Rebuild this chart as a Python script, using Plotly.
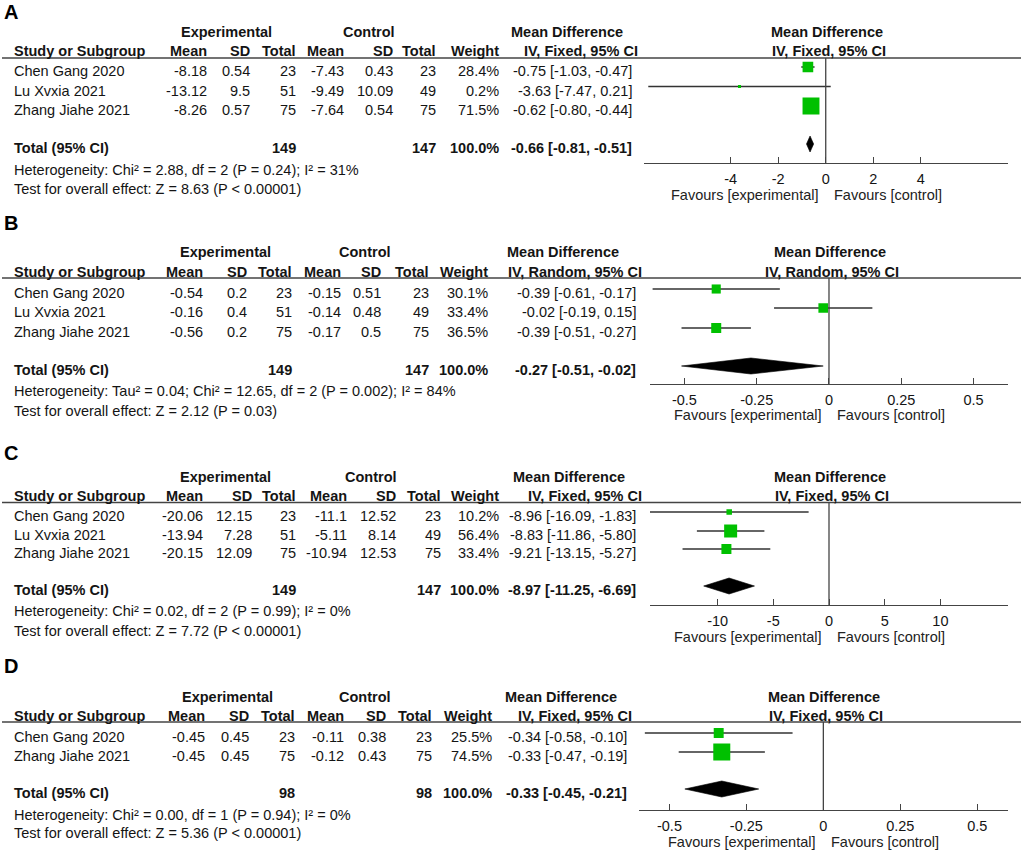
import math
import plotly.graph_objects as go

# ---------------- DATA ----------------
A_studies = ["Chen Gang 2020", "Lu Xvxia 2021", "Zhang Jiahe 2021"]
A_exp_mean = [-8.18, -13.12, -8.26]
A_exp_sd = [0.54, 9.5, 0.57]
A_exp_n = [23, 51, 75]
A_ctl_mean = [-7.43, -9.49, -7.64]
A_ctl_sd = [0.43, 10.09, 0.54]
A_ctl_n = [23, 49, 75]
A_weight = [28.4, 0.2, 71.5]
A_md = [-0.75, -3.63, -0.62]
A_lo = [-1.03, -7.47, -0.80]
A_hi = [-0.47, 0.21, -0.44]
A_total = [149, 147, 100.0, -0.66, -0.81, -0.51]
A_method = "IV, Fixed, 95% CI"
A_het = "Heterogeneity: Chi² = 2.88, df = 2 (P = 0.24); I² = 31%"
A_test = "Test for overall effect: Z = 8.63 (P < 0.00001)"
A_ticks = [-4, -2, 0, 2, 4]
A_ticktext = ["-4", "-2", "0", "2", "4"]

B_studies = ["Chen Gang 2020", "Lu Xvxia 2021", "Zhang Jiahe 2021"]
B_exp_mean = [-0.54, -0.16, -0.56]
B_exp_sd = [0.2, 0.4, 0.2]
B_exp_n = [23, 51, 75]
B_ctl_mean = [-0.15, -0.14, -0.17]
B_ctl_sd = [0.51, 0.48, 0.5]
B_ctl_n = [23, 49, 75]
B_weight = [30.1, 33.4, 36.5]
B_md = [-0.39, -0.02, -0.39]
B_lo = [-0.61, -0.19, -0.51]
B_hi = [-0.17, 0.15, -0.27]
B_total = [149, 147, 100.0, -0.27, -0.51, -0.02]
B_method = "IV, Random, 95% CI"
B_het = "Heterogeneity: Tau² = 0.04; Chi² = 12.65, df = 2 (P = 0.002); I² = 84%"
B_test = "Test for overall effect: Z = 2.12 (P = 0.03)"
B_ticks = [-0.5, -0.25, 0, 0.25, 0.5]
B_ticktext = ["-0.5", "-0.25", "0", "0.25", "0.5"]

C_studies = ["Chen Gang 2020", "Lu Xvxia 2021", "Zhang Jiahe 2021"]
C_exp_mean = [-20.06, -13.94, -20.15]
C_exp_sd = [12.15, 7.28, 12.09]
C_exp_n = [23, 51, 75]
C_ctl_mean = [-11.1, -5.11, -10.94]
C_ctl_sd = [12.52, 8.14, 12.53]
C_ctl_n = [23, 49, 75]
C_weight = [10.2, 56.4, 33.4]
C_md = [-8.96, -8.83, -9.21]
C_lo = [-16.09, -11.86, -13.15]
C_hi = [-1.83, -5.80, -5.27]
C_total = [149, 147, 100.0, -8.97, -11.25, -6.69]
C_method = "IV, Fixed, 95% CI"
C_het = "Heterogeneity: Chi² = 0.02, df = 2 (P = 0.99); I² = 0%"
C_test = "Test for overall effect: Z = 7.72 (P < 0.00001)"
C_ticks = [-10, -5, 0, 5, 10]
C_ticktext = ["-10", "-5", "0", "5", "10"]

D_studies = ["Chen Gang 2020", "Zhang Jiahe 2021"]
D_exp_mean = [-0.45, -0.45]
D_exp_sd = [0.45, 0.45]
D_exp_n = [23, 75]
D_ctl_mean = [-0.11, -0.12]
D_ctl_sd = [0.38, 0.43]
D_ctl_n = [23, 75]
D_weight = [25.5, 74.5]
D_md = [-0.34, -0.33]
D_lo = [-0.58, -0.47]
D_hi = [-0.10, -0.19]
D_total = [98, 98, 100.0, -0.33, -0.45, -0.21]
D_method = "IV, Fixed, 95% CI"
D_het = "Heterogeneity: Chi² = 0.00, df = 1 (P = 0.94); I² = 0%"
D_test = "Test for overall effect: Z = 5.36 (P < 0.00001)"
D_ticks = [-0.5, -0.25, 0, 0.25, 0.5]
D_ticktext = ["-0.5", "-0.25", "0", "0.25", "0.5"]

# ---------------- LAYOUT / STYLE ----------------
W, H = 1024, 853
FONT = "Liberation Sans, Arial, sans-serif"
TXT = "#141414"
LINE = "#444444"
GREEN = "#00c000"
FS = 14.5

data_sets = [
    dict(label="A", studies=A_studies, em=A_exp_mean, es=A_exp_sd, en=A_exp_n, cm=A_ctl_mean, cs=A_ctl_sd,
         cn=A_ctl_n, w=A_weight, md=A_md, lo=A_lo, hi=A_hi, tot=A_total, method=A_method, het=A_het,
         test=A_test, ticks=A_ticks, ticktext=A_ticktext),
    dict(label="B", studies=B_studies, em=B_exp_mean, es=B_exp_sd, en=B_exp_n, cm=B_ctl_mean, cs=B_ctl_sd,
         cn=B_ctl_n, w=B_weight, md=B_md, lo=B_lo, hi=B_hi, tot=B_total, method=B_method, het=B_het,
         test=B_test, ticks=B_ticks, ticktext=B_ticktext),
    dict(label="C", studies=C_studies, em=C_exp_mean, es=C_exp_sd, en=C_exp_n, cm=C_ctl_mean, cs=C_ctl_sd,
         cn=C_ctl_n, w=C_weight, md=C_md, lo=C_lo, hi=C_hi, tot=C_total, method=C_method, het=C_het,
         test=C_test, ticks=C_ticks, ticktext=C_ticktext),
    dict(label="D", studies=D_studies, em=D_exp_mean, es=D_exp_sd, en=D_exp_n, cm=D_ctl_mean, cs=D_ctl_sd,
         cn=D_ctl_n, w=D_weight, md=D_md, lo=D_lo, hi=D_hi, tot=D_total, method=D_method, het=D_het,
         test=D_test, ticks=D_ticks, ticktext=D_ticktext),
]

# pixel layout of each panel
geo = [
    dict(lab_y=12, h1=32, h2=51.5, line=58, rows=[71, 90.5, 110], total=148, het=169.5, test=189, axis=163,
         fav=195, cols=[208, 251, 297, 345, 394, 437, 500], ci=633, ivh=639, exp_c=226, ctl_c=369, md_c=567,
         dom=(644, 1007.7), rng=(-7.65, 7.66), zero=825.7, k=2.0),
    dict(lab_y=223, h1=252, h2=272, line=278, rows=[293, 312, 332], total=370, het=391, test=411, axis=384,
         fav=415, cols=[204, 248, 293, 342, 382, 430, 489], ci=637, ivh=643, exp_c=225, ctl_c=365, md_c=563,
         dom=(650, 1007.7), rng=(-0.619, 0.618), zero=829, k=1.66),
    dict(lab_y=453, h1=477, h2=496, line=502.5, rows=[516, 535, 553], total=590, het=611, test=631, axis=605,
         fav=637, cols=[204, 253, 297, 348, 397, 442, 500], ci=637, ivh=643, exp_c=225, ctl_c=371, md_c=569,
         dom=(650, 1008), rng=(-16.07, 16.07), zero=829, k=1.73),
    dict(lab_y=666, h1=697, h2=716, line=722, rows=[737, 756], total=793, het=815, test=833, axis=810,
         fav=842, cols=[206, 250, 296, 345, 387, 433, 493], ci=628, ivh=633, exp_c=227, ctl_c=365, md_c=561,
         dom=(639.3, 1007.7), rng=(-0.598, 0.599), zero=823.3, k=1.97),
]

anns = []
shapes = []
traces = []
layout_axes = {}


def txt(x, y, s, anchor="left", bold=False, size=FS, color=TXT):
    anns.append(dict(x=x / W, y=1 - y / H, xref="paper", yref="paper",
                     text=f"<b>{s}</b>" if bold else s, showarrow=False,
                     xanchor=anchor, yanchor="middle", borderpad=0,
                     font=dict(family=FONT, size=size, color=color)))


def num(v):
    return str(v)


def ci_str(m, l, h):
    return f"{m:.2f} [{l:.2f}, {h:.2f}]"


MOFF = 4  # marker vertical offset relative to text centre

for i, (d, g) in enumerate(zip(data_sets, geo)):
    n = i + 1
    xa = "x" if n == 1 else f"x{n}"
    axname = "xaxis" if n == 1 else f"xaxis{n}"

    # panel label
    txt(3, g["lab_y"], d["label"], bold=True, size=20, color="#000000")

    # headers
    txt(g["exp_c"], g["h1"], "Experimental", anchor="center", bold=True)
    txt(g["ctl_c"], g["h1"], "Control", anchor="center", bold=True)
    txt(g["md_c"], g["h1"], "Mean Difference", anchor="center", bold=True)
    txt(g["zero"] + 1, g["h1"], "Mean Difference", anchor="center", bold=True)
    txt(13, g["h2"], "Study or Subgroup", bold=True)
    for c, lab in zip(g["cols"], ["Mean", "SD", "Total", "Mean", "SD", "Total", "Weight"]):
        txt(c, g["h2"], lab, anchor="right", bold=True)
    txt(g["ivh"], g["h2"], d["method"], anchor="right", bold=True)
    txt(g["zero"] + 3, g["h2"], d["method"], anchor="center", bold=True)

    # header rule
    shapes.append(dict(type="line", xref="paper", yref="y", x0=2 / W, x1=1021 / W,
                       y0=g["line"], y1=g["line"], line=dict(color=LINE, width=1.4)))

    # study rows
    for j, st in enumerate(d["studies"]):
        y = g["rows"][j]
        txt(13, y, st)
        vals = [num(d["em"][j]), num(d["es"][j]), num(d["en"][j]), num(d["cm"][j]),
                num(d["cs"][j]), num(d["cn"][j]), f"{d['w'][j]:.1f}%"]
        for c, v in zip(g["cols"], vals):
            txt(c, y, v, anchor="right")
        txt(g["ci"], y, ci_str(d["md"][j], d["lo"][j], d["hi"][j]), anchor="right")
        # CI line
        traces.append(go.Scatter(x=[d["lo"][j], d["hi"][j]], y=[y - MOFF, y - MOFF], mode="lines",
                                 line=dict(color="#333333", width=1.3), xaxis=xa, yaxis="y",
                                 hoverinfo="skip"))
        # weight square
        size = max(3.0, g["k"] * math.sqrt(d["w"][j]))
        traces.append(go.Scatter(x=[d["md"][j]], y=[y - MOFF], mode="markers",
                                 marker=dict(symbol="square", size=size, color=GREEN,
                                             line=dict(width=0)),
                                 xaxis=xa, yaxis="y", hoverinfo="skip"))

    # total row
    t = d["tot"]
    yt = g["total"]
    txt(13, yt, "Total (95% CI)", bold=True)
    txt(g["cols"][2], yt, num(t[0]), anchor="right", bold=True)
    txt(g["cols"][5], yt, num(t[1]), anchor="right", bold=True)
    txt(g["cols"][6], yt, f"{t[2]:.1f}%", anchor="right", bold=True)
    txt(g["ci"], yt, ci_str(t[3], t[4], t[5]), anchor="right", bold=True)
    yd = yt - MOFF
    traces.append(go.Scatter(x=[t[4], t[3], t[5], t[3], t[4]], y=[yd, yd - 8, yd, yd + 8, yd],
                             mode="lines", fill="toself", fillcolor="#000000",
                             line=dict(color="#000000", width=0.6), xaxis=xa, yaxis="y",
                             hoverinfo="skip"))

    txt(13, g["het"], d["het"])
    txt(13, g["test"], d["test"])

    # favours labels
    txt(g["zero"] - 7, g["fav"], "Favours [experimental]", anchor="right", color="#222222")
    txt(g["zero"] + 7, g["fav"], "Favours [control]", anchor="left", color="#222222")

    # zero line
    shapes.append(dict(type="line", xref=xa, yref="y", x0=0, x1=0, y0=g["line"], y1=g["axis"],
                       line=dict(color=LINE, width=1.3)))

    layout_axes[axname] = dict(
        domain=[g["dom"][0] / W, g["dom"][1] / W], range=list(g["rng"]), anchor="free",
        position=1 - g["axis"] / H, showline=True, linecolor=LINE, linewidth=1.3,
        ticks="inside", ticklen=6, tickwidth=1.3, tickcolor=LINE,
        tickvals=d["ticks"], ticktext=d["ticktext"], showgrid=False, zeroline=False,
        tickfont=dict(family=FONT, size=FS, color=TXT), fixedrange=True, ticklabelstandoff=2,
    )

fig = go.Figure(data=traces)
fig.update_layout(
    width=W, height=H, margin=dict(l=0, r=0, t=0, b=0),
    paper_bgcolor="white", plot_bgcolor="rgba(0,0,0,0)", showlegend=False,
    hovermode=False,
    yaxis=dict(domain=[0, 1], range=[H, 0], visible=False, fixedrange=True),
    annotations=anns, shapes=shapes,
    **layout_axes,
)
fig.write_html("out.html", config={"displayModeBar": False},
               post_script="document.body.style.margin='0';document.body.style.padding='0';")
